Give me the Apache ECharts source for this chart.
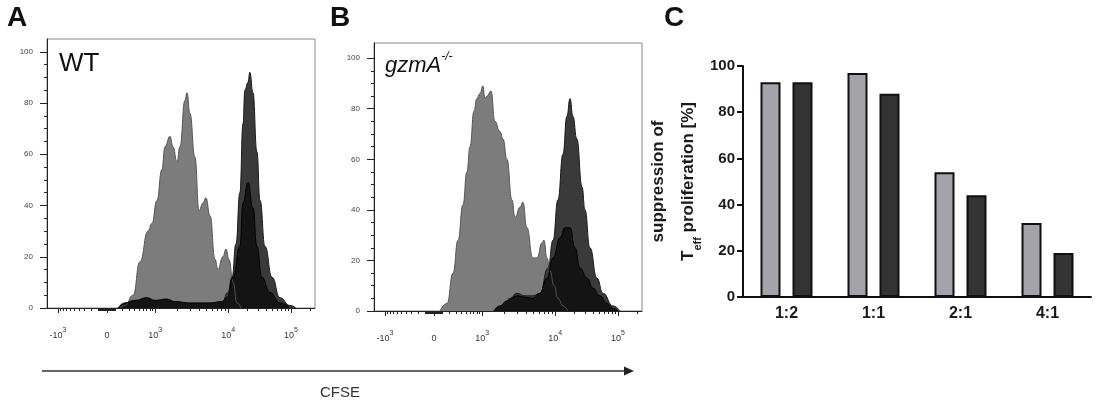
<!DOCTYPE html>
<html>
<head>
<meta charset="utf-8">
<script src="https://cdn.jsdelivr.net/npm/echarts@6/dist/echarts.min.js"></script>
<style>
html,body{margin:0;padding:0;background:#fff;}
#chart{width:1100px;height:404px;}
</style>
</head>
<body>
<div id="chart"></div>
<script>
// ---------- Data ----------
// Histogram x positions are in display channels (0..1024 of the logicle CFSE axis), y in % of max
const wtGrayCh  = [279,298,329,355,386,401,420,439,451,470,481,497,508,527,535,546,565,581,596,607,623,642,653,672,684,695,711,726,741];
const wtGrayPct = [0,  1,  5,  18, 30, 33, 42, 54, 63, 67, 63, 57, 63, 81, 84, 76, 59, 38, 41, 43, 36, 19, 15, 20, 23, 19, 10, 2,  0];
const wtDarkCh  = [642,668,691,707,722,737,749,756,768,775,787,802,814,833,860,890,928,951];
const wtDarkPct = [0,  2,  6,  12, 25, 45, 72, 85, 88, 92, 84, 61, 42, 24, 12, 4,  1,  0];
const wtBlackCh = [271,298,336,382,413,458,489,546,623,668,688,711,737,749,768,787,802,821,852,890,928];
const wtBlackPct= [0,  2,  3,  4,  3,  3.5,2.5,2,  2,  2.5,4,  12, 24, 41, 49, 39, 24, 12, 6,  2,  0];

const koGrayCh  = [252,279,302,321,340,355,367,382,393,405,416,424,432,447,462,481,493,508,527,539,558,569,584,607,623,642,649,661,672,688,703,722,741];
const koGrayPct = [0,  3,  15, 28, 42, 55, 65, 79, 84, 86, 89, 84, 85, 87, 75, 71, 68, 60, 44, 37, 41, 43, 33, 21, 21, 27, 28, 21, 16, 10, 5,  2,  0];
const koDarkCh  = [470,493,520,546,577,607,634,665,684,703,722,737,749,760,775,795,806,825,852,875,913,940];
const koDarkPct = [0,  2,  5,  7,  6,  6,  7,  17, 28, 44, 62, 77, 84, 77, 68, 49, 40, 25, 13, 7,  2,  0];
const koBlackCh = [458,481,508,546,577,607,634,661,684,711,730,749,768,787,814,837,863,890,913,932];
const koBlackPct= [0,  2,  4,  6,  5.5,5,  7,  13, 21, 29, 33, 33, 25, 17, 13, 9,  6,  3,  1,  0];

// CFSE axis tick values (fluorescence) and labels
const cfseMajorValues = [-1000, 0, 1000, 10000, 100000];
const cfseMajorLabels = ['{b|-10}{s|3}', '{b|0}', '{b|10}{s|3}', '{b|10}{s|4}', '{b|10}{s|5}'];
const cfseMinorValues = [-900,-800,-700,-600,-500,-400,-300,-200,-100,-90,-80,-70,-60,-50,-40,-30,-20,-10,
  10,20,30,40,50,60,70,80,90,100,200,300,400,500,600,700,800,900,
  2000,3000,4000,5000,6000,7000,8000,9000,20000,30000,40000,50000,60000,70000,80000,90000,200000];
const histYMajor = [0, 20, 40, 60, 80, 100];
const histYMinor = [5,10,15,25,30,35,45,50,55,65,70,75,85,90,95];

// Panel C
const ratios = ['1:2', '1:1', '2:1', '4:1'];
const suppWT   = [93, 97, 54, 32];
const suppGzmA = [93, 88, 44, 19];

// ---------- Logicle-like display transform (value -> channel) ----------
function toChannel(v) {
  const zeroCh = 229, posCh = 413, negCh = 42, dec4 = 692, dec5 = 932;
  if (Math.abs(v) <= 1000) {
    const s = Math.asinh(v / 300) / Math.asinh(1000 / 300);
    return v >= 0 ? zeroCh + (posCh - zeroCh) * s : zeroCh + (zeroCh - negCh) * s;
  }
  const d = Math.log10(v);
  if (d <= 4) return posCh + (dec4 - posCh) * (d - 3);
  return dec4 + (dec5 - dec4) * (d - 4);
}
const majorCh = cfseMajorValues.map(toChannel);
const minorCh = cfseMinorValues.map(toChannel).filter(c => c >= 0 && c <= 1024);

function zip(a, b) { return a.map((x, i) => [x, b[i]]); }

const FONT = 'Liberation Sans, Arial, sans-serif';

function histXAxes(gi) {
  return [{
    type: 'value', gridIndex: gi, min: 0, max: 1024, position: 'bottom',
    axisLine: { show: true, onZero: false, lineStyle: { color: '#222', width: 1 } },
    splitLine: { show: false },
    axisTick: { show: true, length: 5, customValues: majorCh, lineStyle: { color: '#222' } },
    axisLabel: {
      customValues: majorCh, margin: 19, color: '#333', fontFamily: FONT,
      formatter: function (val) {
        let best = 0, bd = 1e9;
        majorCh.forEach((c, i) => { const d = Math.abs(c - val); if (d < bd) { bd = d; best = i; } });
        return cfseMajorLabels[best];
      },
      rich: {
        b: { fontSize: 9, color: '#333', fontFamily: FONT, lineHeight: 18, verticalAlign: 'middle' },
        s: { fontSize: 7, color: '#333', fontFamily: FONT, lineHeight: 18, verticalAlign: 'top' }
      }
    }
  }, {
    type: 'value', gridIndex: gi, min: 0, max: 1024, position: 'bottom',
    axisLine: { show: false }, splitLine: { show: false },
    axisTick: { show: true, length: 3, customValues: minorCh, lineStyle: { color: '#222' } },
    axisLabel: { show: false }
  }];
}
function histYAxes(gi, ymax) {
  return [{
    type: 'value', gridIndex: gi, min: 0, max: ymax, position: 'left',
    axisLine: { show: true, lineStyle: { color: '#222', width: 1 } },
    splitLine: { show: false },
    axisTick: { show: true, length: 7, customValues: histYMajor, lineStyle: { color: '#222' } },
    axisLabel: { customValues: histYMajor, fontSize: 8, color: '#444', margin: 14, fontFamily: FONT }
  }, {
    type: 'value', gridIndex: gi, min: 0, max: ymax, position: 'left',
    axisLine: { show: false }, splitLine: { show: false },
    axisTick: { show: true, length: 3, customValues: histYMinor, lineStyle: { color: '#222' } },
    axisLabel: { show: false }
  }];
}
function area(data, xi, yi, fill, stroke) {
  return {
    type: 'line', xAxisIndex: xi, yAxisIndex: yi, data: data,
    smooth: 0.5, smoothMonotone: 'x', showSymbol: false, symbol: 'none',
    lineStyle: { color: stroke, width: 1 },
    areaStyle: { color: fill, opacity: 1 },
    silent: true, animation: false
  };
}

const chart = echarts.init(document.getElementById('chart'));
const option = {
  animation: false,
  backgroundColor: '#fff',
  textStyle: { fontFamily: FONT },
  grid: [
    { left: 47, top: 39, width: 268, height: 269, show: true, borderColor: '#888', borderWidth: 1, backgroundColor: 'transparent' },
    { left: 374, top: 43, width: 268, height: 268, show: true, borderColor: '#888', borderWidth: 1, backgroundColor: 'transparent' },
    { left: 743, top: 66, width: 348, height: 231 }
  ],
  xAxis: [
    ...histXAxes(0), ...histXAxes(1),
    {
      type: 'category', gridIndex: 2, data: ratios,
      axisLine: { lineStyle: { color: '#111', width: 2 } },
      axisTick: { alignWithLabel: true, length: 6, lineStyle: { color: '#111', width: 2 } },
      axisLabel: { fontWeight: 'bold', fontSize: 16, color: '#1a1a1a', margin: 9, fontFamily: FONT }
    }
  ],
  yAxis: [
    ...histYAxes(0, 105), ...histYAxes(1, 106),
    {
      type: 'value', gridIndex: 2, min: 0, max: 100, interval: 20,
      axisLine: { show: true, lineStyle: { color: '#111', width: 2 } },
      axisTick: { show: true, length: 6, lineStyle: { color: '#111', width: 2 } },
      axisLabel: { fontWeight: 'bold', fontSize: 15, color: '#1a1a1a', margin: 8, fontFamily: FONT },
      splitLine: { show: false },
      name: '{t|suppression of}\n{t|T}{sub|eff}{t| proliferation [%]}',
      nameLocation: 'middle', nameRotate: 90, nameGap: 40,
      nameTextStyle: {
        rich: {
          t: { fontSize: 17, fontWeight: 'bold', color: '#1a1a1a', lineHeight: 30, fontFamily: FONT },
          sub: { fontSize: 11, fontWeight: 'bold', color: '#1a1a1a', lineHeight: 24, verticalAlign: 'bottom', fontFamily: FONT }
        }
      }
    }
  ],
  series: [
    area(zip(wtGrayCh, wtGrayPct), 0, 0, '#7c7c7c', '#555'),
    area(zip(wtDarkCh, wtDarkPct), 0, 0, '#3a3a3a', '#1a1a1a'),
    area(zip(wtBlackCh, wtBlackPct), 0, 0, '#141414', '#000'),
    area(zip(koGrayCh, koGrayPct), 2, 2, '#7c7c7c', '#555'),
    area(zip(koDarkCh, koDarkPct), 2, 2, '#3a3a3a', '#1a1a1a'),
    area(zip(koBlackCh, koBlackPct), 2, 2, '#141414', '#000'),
    {
      type: 'bar', name: 'WT', xAxisIndex: 4, yAxisIndex: 4, data: suppWT,
      barWidth: 20, barGap: '60%',
      itemStyle: { color: '#a3a3a9', borderColor: '#111', borderWidth: 2 }
    },
    {
      type: 'bar', name: 'gzmA-/-', xAxisIndex: 4, yAxisIndex: 4, data: suppGzmA,
      barWidth: 20, barGap: '60%',
      itemStyle: { color: '#333333', borderColor: '#111', borderWidth: 2 }
    }
  ],
  graphic: [
    { type: 'text', x: 7, y: 18, style: { text: 'A', font: 'bold 28px ' + FONT, fill: '#111', verticalAlign: 'middle' } },
    { type: 'text', x: 330, y: 18, style: { text: 'B', font: 'bold 28px ' + FONT, fill: '#111', verticalAlign: 'middle' } },
    { type: 'text', x: 664, y: 18, style: { text: 'C', font: 'bold 28px ' + FONT, fill: '#111', verticalAlign: 'middle' } },
    { type: 'text', x: 59, y: 64, style: { text: 'WT', font: '26px ' + FONT, fill: '#111', verticalAlign: 'middle' } },
    { type: 'text', x: 385, y: 66, style: {
        text: '{m|gzmA}{s|-/-}', verticalAlign: 'middle',
        rich: {
          m: { fontSize: 22, fontStyle: 'italic', fontFamily: FONT, fill: '#111', lineHeight: 30 },
          s: { fontSize: 12, fontStyle: 'italic', fontFamily: FONT, fill: '#111', lineHeight: 30, verticalAlign: 'top' }
        } } },
    { type: 'line', shape: { x1: 42, y1: 371, x2: 626, y2: 371 }, style: { stroke: '#333', lineWidth: 1.6 } },
    { type: 'polygon', shape: { points: [[624, 366.5], [634, 371], [624, 375.5]] }, style: { fill: '#222' } },
    { type: 'text', x: 340, y: 393, style: { text: 'CFSE', font: '15px ' + FONT, fill: '#333', align: 'center', verticalAlign: 'middle' } }
  ]
};
chart.setOption(option);
</script>
</body>
</html>
